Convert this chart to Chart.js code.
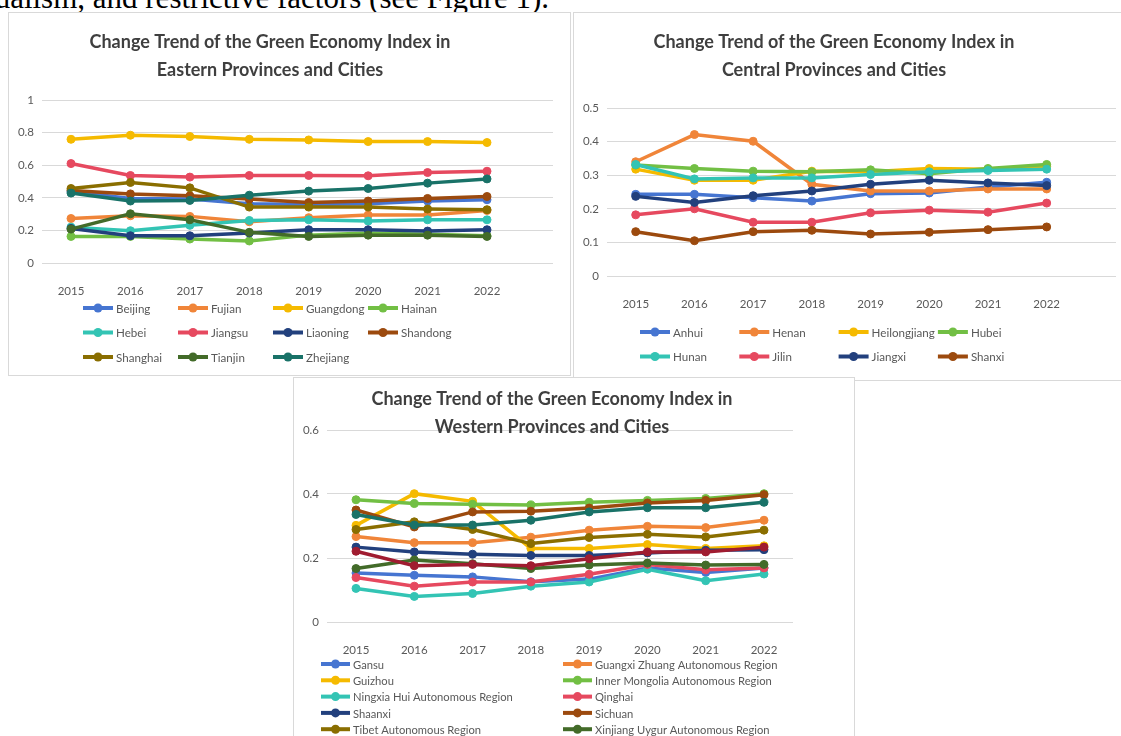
<!DOCTYPE html>
<html>
<head>
<meta charset="utf-8">
<script src="https://cdn.jsdelivr.net/npm/chart.js@4.4.1/dist/chart.umd.min.js"></script>
<style>
  html, body { margin: 0; padding: 0; background: #fff; width: 1121px; height: 736px; overflow: hidden; }
  body { position: relative; }
  .intro { position: absolute; right: 572px; top: -18px; font: 31px/31px "Liberation Serif", "Times New Roman", serif; white-space: nowrap; color: #000; }
  .frame { position: absolute; border: 1px solid #d9d9d9; box-sizing: border-box; background: #fff; }
  canvas { position: absolute; }
</style>
</head>
<body>
<div class="intro">dualism, and restrictive factors (see Figure 1).</div>
<div class="frame" style="left:8px;top:12px;width:563px;height:364px"></div>
<div class="frame" style="left:573px;top:12px;width:560px;height:369px"></div>
<div class="frame" style="left:293px;top:377px;width:562px;height:420px"></div>
<canvas id="east" width="561" height="362" style="left:9px;top:13px"></canvas>
<canvas id="central" width="547" height="366" style="left:574px;top:13px"></canvas>
<canvas id="west" width="560" height="400" style="left:294px;top:378px"></canvas>
<script>
// years on the x axis
const years = [2015, 2016, 2017, 2018, 2019, 2020, 2021, 2022];

// eastern provinces
const eastNames = ["Beijing", "Fujian", "Guangdong", "Hainan", "Hebei", "Jiangsu",
  "Liaoning", "Shandong", "Shanghai", "Tianjin", "Zhejiang"];
const beijing = [0.439, 0.396, 0.392, 0.363, 0.359, 0.363, 0.380, 0.388];
const fujian = [0.273, 0.290, 0.286, 0.253, 0.278, 0.294, 0.294, 0.322];
const guangdong = [0.759, 0.784, 0.776, 0.759, 0.755, 0.745, 0.745, 0.739];
const hainan = [0.163, 0.163, 0.147, 0.135, 0.171, 0.184, 0.176, 0.167];
const hebei = [0.220, 0.198, 0.231, 0.261, 0.265, 0.257, 0.265, 0.265];
const jiangsu = [0.610, 0.537, 0.527, 0.537, 0.537, 0.535, 0.555, 0.563];
const liaoning = [0.212, 0.167, 0.167, 0.184, 0.204, 0.204, 0.196, 0.204];
const shandong = [0.445, 0.424, 0.412, 0.392, 0.371, 0.380, 0.396, 0.408];
const shanghai = [0.457, 0.494, 0.461, 0.343, 0.343, 0.343, 0.331, 0.327];
const tianjin = [0.208, 0.302, 0.265, 0.188, 0.163, 0.171, 0.171, 0.163];
const zhejiang = [0.429, 0.380, 0.384, 0.416, 0.441, 0.457, 0.490, 0.516];

// central provinces
const centralNames = ["Anhui", "Henan", "Heilongjiang", "Hubei", "Hunan", "Jilin", "Jiangxi", "Shanxi"];
const anhui = [0.243, 0.243, 0.233, 0.223, 0.245, 0.247, 0.265, 0.279];
const henan = [0.340, 0.421, 0.401, 0.273, 0.253, 0.253, 0.259, 0.259];
const heilongjiang = [0.318, 0.285, 0.285, 0.312, 0.310, 0.320, 0.318, 0.326];
const hubei = [0.330, 0.320, 0.312, 0.310, 0.316, 0.304, 0.320, 0.332];
const hunan = [0.332, 0.289, 0.292, 0.292, 0.302, 0.310, 0.314, 0.318];
const jilin = [0.182, 0.200, 0.160, 0.160, 0.188, 0.196, 0.190, 0.217];
const jiangxi = [0.237, 0.219, 0.239, 0.253, 0.273, 0.285, 0.277, 0.269];
const shanxi = [0.132, 0.105, 0.132, 0.136, 0.125, 0.130, 0.138, 0.146];

// western provinces (last two are cut off the legend in the picture)
const westNames = ["Gansu", "Guangxi Zhuang Autonomous Region", "Guizhou",
  "Inner Mongolia Autonomous Region", "Ningxia Hui Autonomous Region", "Qinghai",
  "Shaanxi", "Sichuan", "Tibet Autonomous Region", "Xinjiang Uygur Autonomous Region",
  "Yunnan", "Chongqing"];
const gansu = [0.153, 0.146, 0.141, 0.126, 0.134, 0.169, 0.155, 0.169];
const guangxi = [0.267, 0.248, 0.248, 0.265, 0.287, 0.299, 0.295, 0.318];
const guizhou = [0.302, 0.401, 0.377, 0.230, 0.230, 0.242, 0.230, 0.238];
const innerMongolia = [0.382, 0.370, 0.368, 0.366, 0.374, 0.380, 0.386, 0.401];
const ningxia = [0.105, 0.080, 0.089, 0.112, 0.125, 0.165, 0.129, 0.150];
const qinghai = [0.139, 0.112, 0.125, 0.125, 0.149, 0.180, 0.163, 0.169];
const shaanxi = [0.234, 0.219, 0.212, 0.208, 0.208, 0.216, 0.224, 0.226];
const sichuan = [0.350, 0.297, 0.344, 0.346, 0.356, 0.372, 0.380, 0.398];
const tibet = [0.289, 0.313, 0.289, 0.245, 0.264, 0.274, 0.266, 0.287];
const xinjiang = [0.167, 0.194, 0.182, 0.167, 0.178, 0.184, 0.178, 0.180];
const yunnan = [0.336, 0.303, 0.303, 0.318, 0.344, 0.357, 0.357, 0.374];
const chongqing = [0.221, 0.176, 0.180, 0.176, 0.198, 0.219, 0.219, 0.234];

const eastTicks = [0, 0.2, 0.4, 0.6, 0.8, 1];
const centralTicks = [0, 0.1, 0.2, 0.3, 0.4, 0.5];
const westTicks = [0, 0.2, 0.4, 0.6];

// same colour order in all three charts
const palette = ["#4675D1", "#F08539", "#F5BA00", "#72BF44", "#33C4B4", "#E6495F",
  "#22407D", "#9C4A0E", "#8A6E00", "#436B29", "#197268", "#A01C30"];

const tickColor = "#595959";
const fontFamily = "Lato, 'Open Sans', sans-serif";

// legend drawn as a grid, like the spreadsheet legend
const gridLegend = {
  id: "gridLegend",
  afterDraw(chart, args, o) {
    const ctx = chart.ctx;
    ctx.save();
    ctx.font = o.size + "px " + fontFamily;
    ctx.textBaseline = "middle";
    chart.data.datasets.forEach((ds, i) => {
      const x = o.x + (i % o.cols) * o.dx;
      const y = o.y + Math.floor(i / o.cols) * o.dy;
      ctx.strokeStyle = ds.borderColor;
      ctx.lineWidth = 4;
      ctx.beginPath();
      ctx.moveTo(x, y);
      ctx.lineTo(x + o.len, y);
      ctx.stroke();
      ctx.fillStyle = ds.borderColor;
      ctx.beginPath();
      ctx.arc(x + o.len / 2, y, 4.5, 0, Math.PI * 2);
      ctx.fill();
      ctx.fillStyle = tickColor;
      ctx.fillText(ds.label, x + o.len + 3, y + 1);
    });
    ctx.restore();
  }
};

// two-line title that sits on top of the plot
const boxTitle = {
  id: "boxTitle",
  afterDraw(chart, args, o) {
    const ctx = chart.ctx;
    ctx.save();
    ctx.font = "bold " + o.size + "px " + fontFamily;
    ctx.textAlign = "center";
    ctx.textBaseline = "middle";
    ctx.fillStyle = "#3f3f3f";
    o.lines.forEach((t, i) => ctx.fillText(t, o.x, o.y + i * o.dy));
    ctx.restore();
  }
};

function drawChart(id, names, series, yTicks, cfg) {
  const canvas = document.getElementById(id);
  const ox = parseFloat(canvas.style.left), oy = parseFloat(canvas.style.top);
  const W = canvas.width, H = canvas.height;
  const a = cfg.area;
  const step = (cfg.lastX - cfg.firstX) / (years.length - 1);
  const xMin = years[0] - (cfg.firstX - a.left) / step;
  const xMax = years[years.length - 1] + (a.right - cfg.lastX) / step;

  const datasets = series.map((vals, i) => ({
    label: names[i],
    data: vals.map((v, j) => ({ x: years[j], y: v })),
    borderColor: palette[i],
    backgroundColor: palette[i],
    borderWidth: 3.5,
    pointRadius: 4,
    pointBorderWidth: 1,
    pointBackgroundColor: palette[i],
    pointBorderColor: palette[i],
    tension: 0,
    order: series.length - i
  }));

  new Chart(canvas, {
    type: "line",
    data: { datasets },
    options: {
      responsive: false,
      animation: false,
      layout: { padding: { left: 0, top: a.top - oy, right: W - (a.right - ox), bottom: 0 } },
      scales: {
        x: {
          type: "linear",
          min: xMin,
          max: xMax,
          grid: { display: false },
          border: { display: false },
          afterBuildTicks: s => { s.ticks = years.map(v => ({ value: v })); },
          afterFit: s => { s.height = H - (a.bottom - oy); },
          ticks: {
            color: tickColor,
            font: { family: fontFamily, size: 11.5 },
            padding: 13,
            maxRotation: 0,
            autoSkip: false,
            callback: v => String(v)
          }
        },
        y: {
          min: yTicks[0],
          max: yTicks[yTicks.length - 1],
          afterBuildTicks: s => { s.ticks = yTicks.map(v => ({ value: v })); },
          afterFit: s => { s.width = a.left - ox; },
          grid: { color: "#d9d9d9", lineWidth: 1, drawTicks: false },
          border: { display: false },
          ticks: {
            color: tickColor,
            font: { family: fontFamily, size: 11.5 },
            padding: 8,
            callback: v => String(+v.toFixed(2))
          }
        }
      },
      plugins: {
        legend: { display: false },
        title: { display: false },
        tooltip: { enabled: false },
        boxTitle: {
          lines: cfg.title,
          size: 18,
          x: cfg.titleX - ox,
          y: cfg.titleY - oy,
          dy: 28
        },
        gridLegend: {
          cols: cfg.legend.cols,
          x: cfg.legend.x - ox,
          y: cfg.legend.y - oy,
          dx: cfg.legend.dx,
          dy: cfg.legend.dy,
          len: cfg.legend.len,
          size: cfg.legend.size
        }
      }
    },
    plugins: [boxTitle, gridLegend]
  });
}

drawChart("east", eastNames,
  [beijing, fujian, guangdong, hainan, hebei, jiangsu, liaoning, shandong, shanghai, tianjin, zhejiang],
  eastTicks, {
    area: { left: 42, right: 553, top: 100, bottom: 263 },
    firstX: 71, lastX: 487,
    title: ["Change Trend of the Green Economy Index in", "Eastern Provinces and Cities"],
    titleX: 270, titleY: 42,
    legend: { cols: 4, x: 83, y: 308, dx: 95, dy: 24.5, len: 30, size: 11.6 }
  });

drawChart("central", centralNames,
  [anhui, henan, heilongjiang, hubei, hunan, jilin, jiangxi, shanxi],
  centralTicks, {
    area: { left: 607, right: 1121, top: 108, bottom: 276 },
    firstX: 636, lastX: 1051,
    title: ["Change Trend of the Green Economy Index in", "Central Provinces and Cities"],
    titleX: 834, titleY: 42,
    legend: { cols: 4, x: 640, y: 332, dx: 99.3, dy: 24.5, len: 30, size: 11.6 }
  });

drawChart("west", westNames,
  [gansu, guangxi, guizhou, innerMongolia, ningxia, qinghai, shaanxi, sichuan, tibet, xinjiang, yunnan, chongqing],
  westTicks, {
    area: { left: 327, right: 793, top: 430, bottom: 622 },
    firstX: 356, lastX: 764,
    title: ["Change Trend of the Green Economy Index in", "Western Provinces and Cities"],
    titleX: 552, titleY: 399,
    legend: { cols: 2, x: 321, y: 664, dx: 242, dy: 16.3, len: 29, size: 11.2 }
  });
</script>
</body>
</html>
